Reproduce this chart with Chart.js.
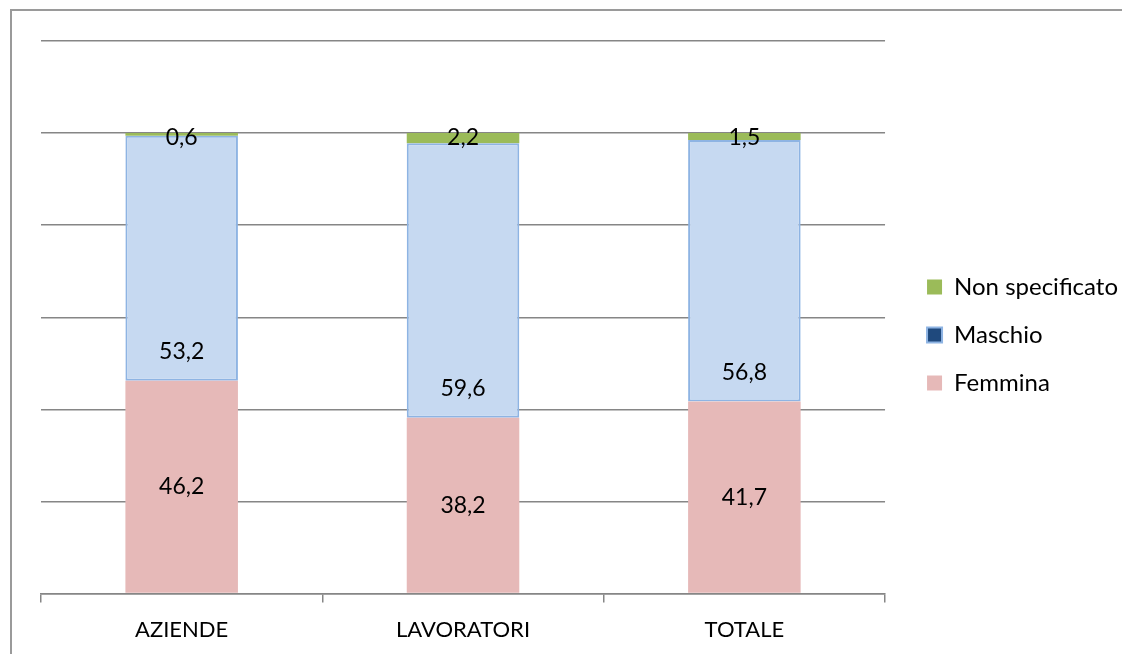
<!DOCTYPE html>
<html>
<head>
<meta charset="utf-8">
<script src="https://cdn.jsdelivr.net/npm/chart.js@4"></script>
<style>
  html, body { margin: 0; padding: 0; background: #fff; }
  #wrap { position: relative; width: 1122px; height: 654px; overflow: hidden; }
  #frame { position: absolute; left: 10px; top: 9px; width: 1200px; height: 700px;
           border-left: 2px solid #9a9a9a; border-top: 2px solid #9a9a9a; }
  canvas { position: absolute; left: 0; top: 0; }
</style>
</head>
<body>
<div id="wrap">
  <div id="frame"></div>
  <canvas id="chart" width="1122" height="669"></canvas>
</div>
<script>
const categories = ['AZIENDE', 'LAVORATORI', 'TOTALE'];
const femmina = [46.2, 38.2, 41.7];
const maschio = [53.2, 59.6, 56.8];
const nonSpecificato = [0.6, 2.2, 1.5];
const yTicks = [0, 20, 40, 60, 80, 100, 120];

const FONT = 'Lato, "Open Sans", sans-serif';

// value labels, placed roughly like the Excel original
const labelPlugin = {
  id: 'valueLabels',
  afterDatasetsDraw(chart) {
    const ctx = chart.ctx;
    const yScale = chart.scales.y;
    ctx.save();
    ctx.font = '23px ' + FONT;
    ctx.fillStyle = '#000';
    ctx.textAlign = 'center';
    ctx.textBaseline = 'middle';
    chart.data.datasets.forEach((ds, di) => {
      const meta = chart.getDatasetMeta(di);
      meta.data.forEach((bar, i) => {
        const p = bar.getProps(['x', 'y', 'base'], true);
        let y;
        if (ds.label === 'Femmina') y = (p.y + p.base) / 2;
        else if (ds.label === 'Maschio') y = p.base - 29;
        else y = yScale.getPixelForValue(99);
        ctx.fillText(ds.data[i].toFixed(1).replace('.', ','), p.x, y);
      });
    });
    ctx.restore();
  },
  afterLayout(chart) {
    // nudge legend a bit right and up
    const lg = chart.legend;
    if (lg) {
      lg.left += 18; lg.right += 18;
      lg.top -= 14; lg.bottom -= 14;
    }
  }
};

const ctx = document.getElementById('chart').getContext('2d');
new Chart(ctx, {
  type: 'bar',
  data: {
    labels: categories,
    datasets: [
      {
        label: 'Femmina',
        data: femmina,
        backgroundColor: '#E6B9B8',
        borderWidth: 0,
        categoryPercentage: 1,
        barPercentage: 0.4,
      },
      {
        label: 'Maschio',
        data: maschio,
        backgroundColor: '#C6D9F1',
        borderColor: '#8EB4E3',
        borderWidth: 2,
        borderSkipped: false,
        categoryPercentage: 1,
        barPercentage: 0.4,
      },
      {
        label: 'Non specificato',
        data: nonSpecificato,
        backgroundColor: '#9BBB59',
        borderWidth: 0,
        categoryPercentage: 1,
        barPercentage: 0.4,
      },
    ],
  },
  options: {
    responsive: false,
    animation: false,
    layout: { padding: { left: 41, top: 41, right: 12, bottom: 12 } },
    scales: {
      x: {
        stacked: true,
        grid: { display: true, drawOnChartArea: false, drawTicks: true, tickLength: 9, color: '#868686', lineWidth: 1.5 },
        border: { display: true, color: '#868686', width: 1.5 },
        ticks: { color: '#000', padding: 14, font: { family: FONT, size: 22 } },
      },
      y: {
        stacked: true,
        min: yTicks[0],
        max: yTicks[yTicks.length - 1],
        afterBuildTicks(scale) { scale.ticks = yTicks.map(v => ({ value: v })); },
        grid: { color: '#868686', lineWidth: 1.5, drawTicks: false },
        border: { display: false },
        ticks: { display: false },
      },
    },
    plugins: {
      tooltip: { enabled: false },
      legend: {
        display: true,
        position: 'right',
        reverse: true,
        labels: {
          color: '#000',
          boxWidth: 15,
          boxHeight: 15,
          padding: 24,
          font: { family: FONT, size: 24 },
          generateLabels(chart) {
            return chart.data.datasets.map((ds, i) => ({
              text: ds.label,
              fillStyle: ds.label === 'Maschio' ? '#1F497D' : ds.backgroundColor,
              strokeStyle: ds.label === 'Maschio' ? '#8EB4E3' : ds.backgroundColor,
              lineWidth: ds.label === 'Maschio' ? 2 : 0,
              datasetIndex: i,
              hidden: false,
            }));
          },
        },
      },
    },
  },
  plugins: [labelPlugin],
});
</script>
</body>
</html>
